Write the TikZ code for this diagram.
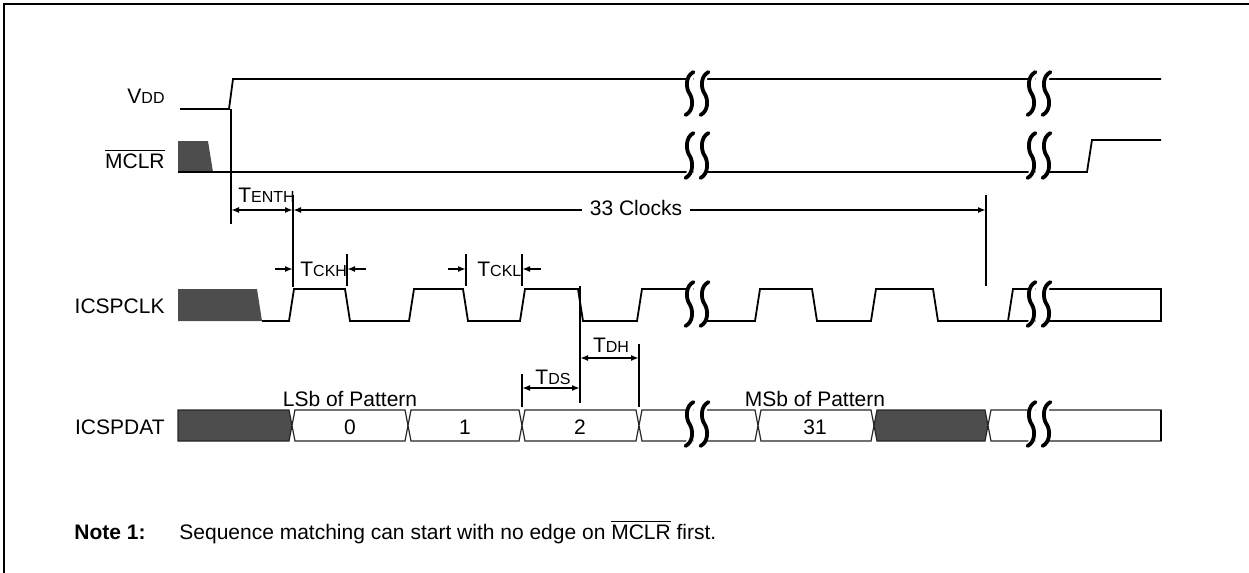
\documentclass[tikz,border=0pt]{standalone}
\usepackage{fontspec}
\setmainfont{Liberation Sans}
\usetikzlibrary{arrows.meta}
\definecolor{padfill}{RGB}{77,77,77}
% T with small capital suffix
\newcommand{\tsm}[2]{#1{\fontsize{8}{8}\selectfont #2}}
\newcommand{\ovl}[1]{$\overline{\hbox{#1}}$}
% one data cell, x from #2 to #3
\newcommand{\buscell}[3][white]{%
  \filldraw[bus,fill=#1] (#2,425.5) -- (#2+3,410) -- (#3-3,410) -- (#3,425.5) -- (#3-3,441) -- (#2+3,441) -- cycle;}
% one stroke of a break mark: x, top y, bottom y
\newcommand{\brkpath}[3]{(#1+4,#2) .. controls (#1-4,#2+4) and (#1-4,#2/2+#3/2-6) .. (#1,#2/2+#3/2) .. controls (#1+4,#2/2+#3/2+6) and (#1+4,#3-4) .. (#1-4,#3)}
% break mark: centre x, top y, bottom y
\newcommand{\brk}[3]{%
  \fill[white] (#1-3.5,#2) rectangle (#1+3.5,#3);
  \fill[white] \brkpath{#1-7.5}{#2}{#3} -- cycle;
  \fill[white] \brkpath{#1+7.5}{#2}{#3} -- cycle;
  \fill[white] (#1-3.5,#2) -- (#1-6,#2+12) -- (#1-6,#3-10) -- (#1-3.5,#3) -- cycle;
  \fill[white] (#1+3.5,#2) -- (#1+6,#2+10) -- (#1+6,#3-12) -- (#1+3.5,#3) -- cycle;
  \draw[brkline] \brkpath{#1-7.5}{#2}{#3};
  \draw[brkline] \brkpath{#1+7.5}{#2}{#3};}
\tikzset{
  wave/.style={line width=0.9pt},
  guide/.style={line width=0.8pt},
  dim/.style={line width=0.8pt, >={Latex[length=4pt,width=3pt]}},
  bus/.style={line width=0.6pt, draw=black!85},
  brkline/.style={line width=1.9pt, line cap=round},
  lbl/.style={inner sep=1pt}
}
\begin{document}
\begin{tikzpicture}[x=0.5pt, y=-0.5pt, font=\fontsize{10.5}{12.6}\selectfont]
\useasboundingbox (0,0) rectangle (1249,573);
\draw[line width=1pt] (4,573) -- (4,4) -- (1249,4); % frame

% signal names
\node[lbl, anchor=east] (nVdd) at (167,96) {V\fontsize{8}{8}\selectfont DD};
\node[lbl, anchor=east] (nMclr) at (167,159) {\ovl{MCLR}};
\node[lbl, anchor=east] (nClk) at (167,306) {ICSPCLK};
\node[lbl, anchor=east] (nDat) at (167,427) {ICSPDAT};

% VDD and MCLR
\draw[wave] (180,109) -- (229,109) -- (233,79) -- (1161,79);
\fill[padfill] (178,141) -- (208,141) -- (213,172) -- (178,172) -- cycle;
\draw[wave] (178,172) -- (1087,172) -- (1092,140) -- (1161,140);

% ICSPCLK
\fill[padfill] (178,289) -- (257,289) -- (262,321) -- (178,321) -- cycle;
\draw[wave] (262,321) -- (289,321) -- (294,289) -- (345,289) -- (350,321) -- (409,321) -- (414,289) -- (463,289) -- (468,321) -- (520,321) -- (525,289) -- (578,289) -- (583,321) -- (637,321) -- (642,289) -- (697,289);
\draw[wave] (697,321) -- (755,321) -- (760,289) -- (812,289) -- (817,321) -- (871,321) -- (876,289) -- (933,289) -- (938,321) -- (1008,321) -- (1013,289) -- (1161,289) -- (1161,321) -- (1008,321);

% ICSPDAT
\filldraw[bus,fill=padfill] (178,410) -- (289,410) -- (292,425.5) -- (289,441) -- (178,441) -- cycle;
\buscell{292}{408}
\buscell{408}{522}
\buscell{522}{639}
\buscell{639}{758}
\buscell{758}{874}
\buscell[padfill]{874}{988}
\filldraw[bus,fill=white] (988,425.5) -- (991,410) -- (1161,410) -- (1161,441) -- (991,441) -- cycle;
\draw[line width=0.9pt] (1161,410) -- (1161,441);
\node[lbl] (b0) at (350,427) {0};
\node[lbl] (b1) at (465,427) {1};
\node[lbl] (b2) at (580,427) {2};
\node[lbl] (b31) at (815,427) {31};
\node[lbl] (nLsb) at (350,399) {LSb of Pattern};
\node[lbl] (nMsb) at (815,399) {MSb of Pattern};

% breaks
\foreach \bx in {697,1039} {
  \brk{\bx}{72}{115}
  \brk{\bx}{133}{178}
  \brk{\bx}{282}{326}
  \brk{\bx}{402}{446}
}

% guide lines
\draw[guide] (231,109) -- (231,224);
\draw[guide] (293,195) -- (293,287);
\draw[guide] (986,195) -- (986,286);
\draw[guide] (347,254) -- (347,286);
\draw[guide] (466,254) -- (466,286);
\draw[guide] (522,254) -- (522,286);
\draw[guide] (580,286) -- (580,403);
\draw[guide] (639,344) -- (639,407);
\draw[guide] (522,374) -- (522,407);

% timing arrows
\coordinate (en1) at (231,210);
\coordinate (en2) at (293,210);
\coordinate (clk33) at (986,210);
\draw[dim,<->] (en1) -- (en2);
\draw[dim,<->] (en2) -- (clk33);
\node[lbl, anchor=west] (tEnth) at (236,195) {\tsm{T}{ENTH}};
\node[lbl, fill=white, inner xsep=4pt] (tClocks) at (636,208) {33 Clocks};

\coordinate (ckh1) at (275,269);
\coordinate (ckh2) at (293,269);
\coordinate (ckh3) at (366,269);
\coordinate (ckh4) at (347,269);
\draw[dim,->] (ckh1) -- (ckh2);
\draw[dim,->] (ckh3) -- (ckh4);
\node[lbl, anchor=west] (tCkh) at (298,269) {\tsm{T}{CKH}};

\coordinate (ckl1) at (448,269);
\coordinate (ckl2) at (466,269);
\coordinate (ckl3) at (541,269);
\coordinate (ckl4) at (522,269);
\draw[dim,->] (ckl1) -- (ckl2);
\draw[dim,->] (ckl3) -- (ckl4);
\node[lbl, anchor=west] (tCkl) at (475,269) {\tsm{T}{CKL}};

\coordinate (dh1) at (580,358);
\coordinate (dh2) at (639,358);
\draw[dim,<->] (dh1) -- (dh2);
\node[lbl] (tDh) at (611,345) {\tsm{T}{DH}};

\coordinate (ds1) at (522,388);
\coordinate (ds2) at (580,388);
\draw[dim,<->] (ds1) -- (ds2);
\node[lbl] (tDs) at (553,377) {\tsm{T}{DS}};

% note
\node[lbl, anchor=west] (nNote) at (72,532) {\textbf{Note 1:}};
\node[lbl, anchor=west] (nNoteTxt) at (177,532) {Sequence matching can start with no edge on \ovl{MCLR} first.};
\end{tikzpicture}
\end{document}
